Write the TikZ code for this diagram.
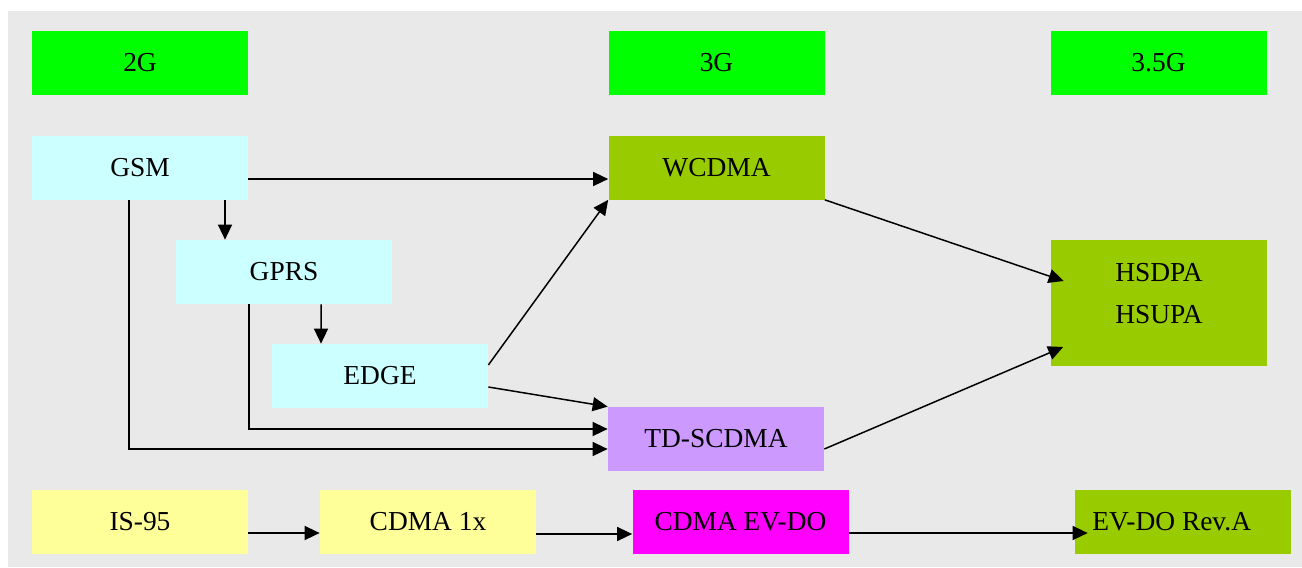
\documentclass[tikz,border=0pt]{standalone}
\usepackage{fontspec}
\setmainfont{Liberation Serif}
\usepackage{tikz}
\usetikzlibrary{arrows.meta, calc}

\definecolor{bggray}{RGB}{233,233,233}
\definecolor{gengreen}{RGB}{0,255,0}
\definecolor{gsmcyan}{RGB}{204,255,255}
\definecolor{umtsgreen}{RGB}{153,204,0}
\definecolor{tdpurple}{RGB}{204,153,255}
\definecolor{evmagenta}{RGB}{255,0,255}
\definecolor{cdmayellow}{RGB}{255,255,153}

\begin{document}
\begin{tikzpicture}[
    box/.style={minimum width=4.32cm, minimum height=1.28cm, inner sep=0pt,
      font=\fontsize{15.6}{18}\selectfont},
    arr/.style={-{Triangle[length=0.3cm, width=0.28cm]}, line width=0.85pt}
  ]
  \useasboundingbox (0,0) rectangle (26.04,-11.34);
  \fill[bggray] (0.16,-0.22) rectangle (26.04,-11.34);

  % generation headers
  \node[box, fill=gengreen] (gen2)  at (2.80,-1.26)  {2G};
  \node[box, fill=gengreen] (gen3)  at (14.33,-1.26) {3G};
  \node[box, fill=gengreen] (gen35) at (23.17,-1.26) {3.5G};

  % GSM family
  \node[box, fill=gsmcyan] (gsm)  at (2.80,-3.35) {GSM};
  \node[box, fill=gsmcyan] (gprs) at (5.68,-5.44) {GPRS};
  \node[box, fill=gsmcyan] (edge) at (7.60,-7.52) {EDGE};

  % 3G / 3.5G
  \node[box, fill=umtsgreen] (wcdma)   at (14.33,-3.35) {WCDMA};
  \node[box, fill=tdpurple]  (tdscdma) at (14.32,-8.78) {TD-SCDMA};
  \node[box, fill=umtsgreen, minimum height=2.52cm] (hspa) at (23.18,-6.06) {};
  \node[font=\fontsize{15.6}{24.4}\selectfont, align=center] (hspatxt)
    at ([yshift=0.19cm]hspa.center) {HSDPA\\HSUPA};

  % CDMA family
  \node[box, fill=cdmayellow] (is95)   at (2.80,-10.44)  {IS-95};
  \node[box, fill=cdmayellow] (cdma1x) at (8.56,-10.44)  {CDMA 1x};
  \node[box, fill=evmagenta]  (evdo)   at (14.81,-10.43) {CDMA EV-DO};
  \node[box, fill=umtsgreen]  (reva)   at (23.66,-10.43) {\hspace*{-0.45cm}EV-DO Rev.A};

  % GSM paths
  \draw[arr] ([yshift=-0.23cm]gsm.east) -- ([yshift=-0.23cm]wcdma.west);
  \draw[arr] ([xshift=1.70cm]gsm.south) -- ([xshift=-1.18cm]gprs.north);
  \draw[arr] ([xshift=-0.22cm]gsm.south) |- ([yshift=-0.2cm]tdscdma.west);
  \draw[arr] ([xshift=-0.70cm]gprs.south) |- ([yshift=0.2cm]tdscdma.west);
  \draw[arr] ([xshift=0.74cm]gprs.south) -- ([xshift=-1.18cm]edge.north);
  \draw[arr] ([yshift=0.22cm]edge.east) -- (wcdma.south west);
  \draw[arr] ([yshift=-0.22cm]edge.east) -- (tdscdma.north west);

  % towards HSPA
  \draw[arr] (wcdma.south east) -- ([shift={(0.26,0.44)}]hspa.west);
  \draw[arr] ([yshift=-0.2cm]tdscdma.east) -- ([shift={(0.25,-0.88)}]hspa.west);

  % CDMA path
  \draw[arr] ([yshift=-0.22cm]is95.east) -- ([yshift=-0.22cm]cdma1x.west);
  \draw[arr] ([yshift=-0.24cm]cdma1x.east) -- ([yshift=-0.24cm]cdma1x.east -| evdo.west);
  \draw[arr] ([yshift=-0.23cm]evdo.east) -- ([shift={(0.26,-0.23)}]reva.west);
\end{tikzpicture}
\end{document}
